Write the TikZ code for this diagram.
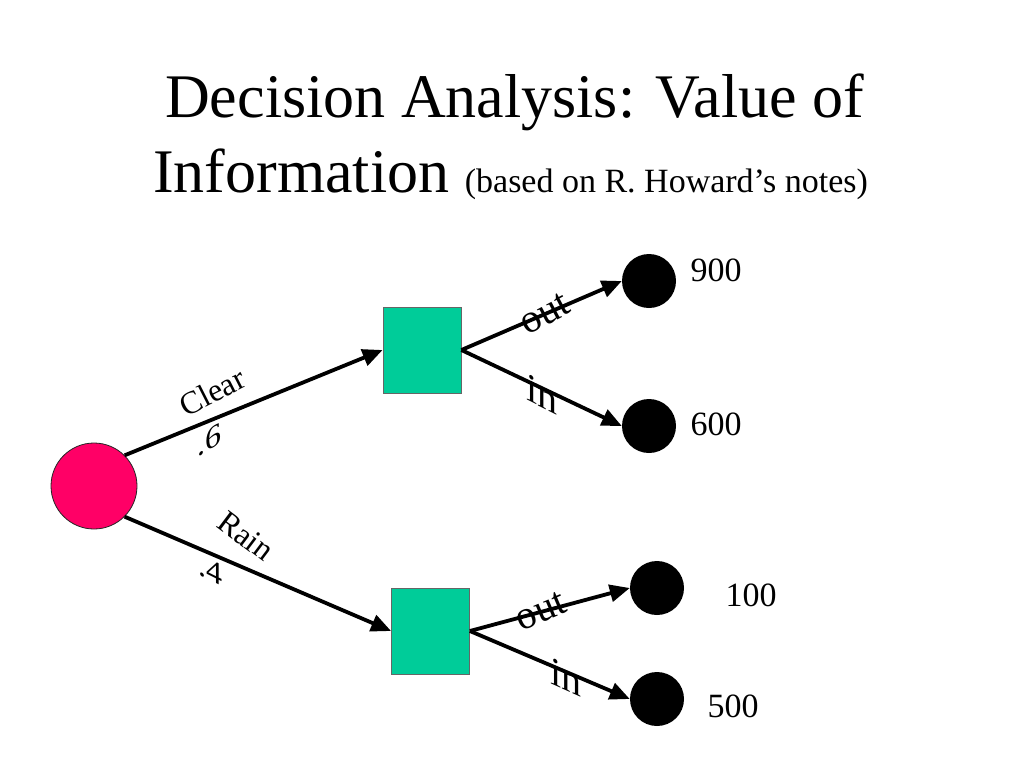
\documentclass[tikz,border=0pt]{standalone}
\usepackage{fontspec}
\setmainfont{Liberation Serif}
\usetikzlibrary{arrows.meta}
\definecolor{chancered}{HTML}{FF0066}
\definecolor{decgreen}{HTML}{00CC99}
\begin{document}
\begin{tikzpicture}[x=1pt,y=-1pt,
  chance/.style={circle,draw=black!85,line width=0.8pt,fill=chancered,minimum size=86pt,inner sep=0pt},
  decision/.style={rectangle,draw=black!60,line width=0.8pt,fill=decgreen,minimum width=78pt,minimum height=86pt,inner sep=0pt},
  outcome/.style={circle,fill=black,minimum size=54pt,inner sep=0pt},
  arr/.style={line width=3.8pt,-{Triangle[length=20pt,width=17pt]}},
  lbl/.style={font=\fontsize{32}{32}\selectfont,inner sep=0pt},
  big/.style={font=\fontsize{40}{40}\selectfont,inner sep=0pt},
  val/.style={font=\fontsize{34}{34}\selectfont,inner sep=0pt},
  title/.style={font=\fontsize{62}{62}\selectfont,inner sep=0pt}]
\useasboundingbox[fill=white] (0,0) rectangle (1024,768);

% title
\node[title,anchor=base west] (t1) at (165,117) {Decision Analysis: Value of};
\node[title,anchor=base west] (t2) at (153,192) {Information {\fontsize{34}{34}\selectfont (based on R. Howard’s notes)}};

% nodes
\node[chance] (root) at (94,486) {};
\node[decision] (d1) at (422,350) {};
\node[decision] (d2) at (430.5,631) {};
\node[outcome] (o1) at (649,281) {};
\node[outcome] (o2) at (649,426) {};
\node[outcome] (o3) at (657,588) {};
\node[outcome] (o4) at (657,699) {};

% connectors
\draw[arr] (root.45) -- (d1.west);
\draw[arr] (root.-45) -- (d2.west);
\draw[arr] (d1.east) -- (o1.west);
\draw[arr] (d1.east) -- (o2.west);
\draw[arr] (d2.east) -- (o3.west);
\draw[arr] (d2.east) -- (o4.west);

% branch labels
\node[lbl,rotate=27] (lclear) at (212,392) {Clear};
\node[lbl,yslant=0.6] (lp6) at (209,440) {.6};
\node[lbl,rotate=-37] (lrain) at (246,536) {Rain};
\node[lbl,yslant=-0.5] (lp4) at (210,570) {.4};
\node[big,rotate=28] (lout1) at (545,314) {out};
\node[big,yslant=-0.5] (lin1) at (542,394) {in};
\node[big,rotate=23] (lout2) at (541,611) {out};
\node[big,yslant=-0.45] (lin2) at (566,677) {in};

% values
\node[val] (v1) at (716,270) {900};
\node[val] (v2) at (716,424) {600};
\node[val] (v3) at (751,595) {100};
\node[val] (v4) at (733,706) {500};
\end{tikzpicture}
\end{document}
